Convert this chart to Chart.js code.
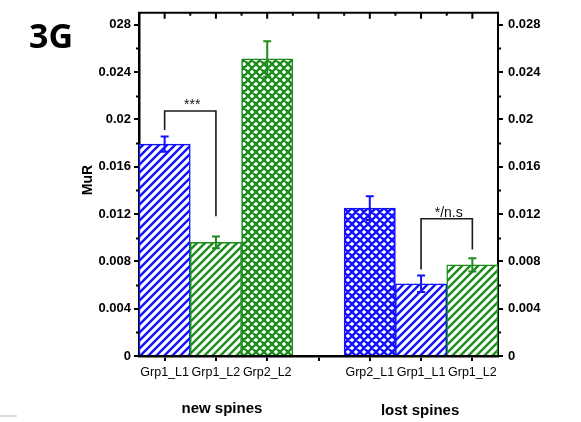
<!DOCTYPE html>
<html>
<head>
<meta charset="utf-8">
<script src="https://cdn.jsdelivr.net/npm/chart.js@4.4.1/dist/chart.umd.min.js"></script>
<style>
  html, body { margin: 0; padding: 0; background: #fff; }
  #wrap { width: 581px; height: 422px; position: relative; }
</style>
</head>
<body>
<div id="wrap"><canvas id="c" width="581" height="422"></canvas></div>
<script>
// ---- data ----
const newCategories = ['Grp1_L1', 'Grp1_L2', 'Grp2_L2'];
const newValues     = [0.0179, 0.0096, 0.0251];
const newErrors     = [0.00065, 0.0005, 0.0015];
const lostCategories = ['Grp2_L1', 'Grp1_L1', 'Grp1_L2'];
const lostValues     = [0.0125, 0.0061, 0.0077];
const lostErrors     = [0.001, 0.0007, 0.00055];
const groupLabels = ['new spines', 'lost spines'];
const yTickValues = [0, 0.004, 0.008, 0.012, 0.016, 0.02, 0.024, 0.028];
const yTickLabelsLeft  = ['0', '0.004', '0.008', '0.012', '0.016', '0.02', '0.024', '028'];
const yTickLabelsRight = ['0', '0.004', '0.008', '0.012', '0.016', '0.02', '0.024', '0.028'];
const yMinorValues = [0.002, 0.006, 0.010, 0.014, 0.018, 0.022, 0.026];
// significance brackets: category indices and value levels
const brackets = [
  { from: 0, to: 1, top: 0.0207, leftEnd: 0.0191, rightEnd: 0.0118, text: '***' },
  { from: 5, to: 6, top: 0.0116, leftEnd: 0.0073, rightEnd: 0.0090, text: '*/n.s' }
];

// ---- build combined table ----
const categories = [...newCategories, '', ...lostCategories];
const values = [...newValues, null, ...lostValues];
const errors = [...newErrors, null, ...lostErrors];
const BLUE = '#1212ff', GREEN = '#1d8c1d';
const barColors = [BLUE, GREEN, GREEN, null, BLUE, BLUE, GREEN];
const barKinds  = ['hatch', 'hatch', 'cross', null, 'cross', 'hatch', 'hatch'];

function makePattern(kind, color) {
  const c = document.createElement('canvas');
  const ctx = c.getContext('2d');
  if (kind === 'hatch') {
    const s = 8;
    c.width = s; c.height = s;
    ctx.fillStyle = '#fff'; ctx.fillRect(0, 0, s, s);
    ctx.strokeStyle = color; ctx.lineWidth = 2.4;
    ctx.beginPath();
    ctx.moveTo(-2, s + 2); ctx.lineTo(s + 2, -2);
    ctx.moveTo(-2 - s, s + 2); ctx.lineTo(2, -2);
    ctx.moveTo(s - 2, 2 + s); ctx.lineTo(2 * s + 2, -2);
    ctx.stroke();
  } else {
    const s = 8;
    c.width = s; c.height = s;
    ctx.fillStyle = '#fff'; ctx.fillRect(0, 0, s, s);
    ctx.strokeStyle = color; ctx.lineWidth = 2.4;
    ctx.beginPath();
    for (let k = -1; k <= 1; k++) {
      ctx.moveTo(-2 + k * s, s + 2); ctx.lineTo(s + 2 + k * s, -2);
      ctx.moveTo(-2 + k * s, -2); ctx.lineTo(s + 2 + k * s, s + 2);
    }
    ctx.stroke();
  }
  return document.getElementById('c').getContext('2d').createPattern(c, 'repeat');
}
const bgs = barKinds.map((k, i) => k ? makePattern(k, barColors[i]) : 'rgba(0,0,0,0)');

const FONT = '"Liberation Sans", Arial, sans-serif';

const extras = {
  id: 'extras',
  afterDatasetsDraw(chart) {
    const ctx = chart.ctx;
    const x = chart.scales.x, y = chart.scales.y;
    const area = chart.chartArea;
    ctx.save();
    // error bars
    values.forEach((v, i) => {
      if (v == null) return;
      const cx = x.getPixelForValue(i);
      const yt = y.getPixelForValue(v + errors[i]);
      const yb = y.getPixelForValue(v - errors[i]);
      ctx.strokeStyle = barColors[i];
      ctx.lineWidth = 2;
      ctx.beginPath();
      ctx.moveTo(cx, yt); ctx.lineTo(cx, yb);
      ctx.moveTo(cx - 4, yt); ctx.lineTo(cx + 4, yt);
      ctx.moveTo(cx - 4, yb); ctx.lineTo(cx + 4, yb);
      ctx.stroke();
    });
    // brackets
    ctx.strokeStyle = '#1a1a1a';
    ctx.lineWidth = 1.6;
    ctx.fillStyle = '#111';
    ctx.font = '14px ' + FONT;
    ctx.textAlign = 'center';
    ctx.textBaseline = 'alphabetic';
    brackets.forEach(b => {
      const x1 = x.getPixelForValue(b.from), x2 = x.getPixelForValue(b.to);
      const yt = y.getPixelForValue(b.top);
      ctx.beginPath();
      ctx.moveTo(x1, y.getPixelForValue(b.leftEnd));
      ctx.lineTo(x1, yt); ctx.lineTo(x2, yt);
      ctx.lineTo(x2, y.getPixelForValue(b.rightEnd));
      ctx.stroke();
      ctx.fillText(b.text, (x1 + x2) / 2 + 2, yt - 2);
    });
    // top frame + ticks
    ctx.strokeStyle = '#000';
    ctx.lineWidth = 2;
    ctx.beginPath();
    ctx.moveTo(area.left - 1, area.top); ctx.lineTo(area.right + 1, area.top);
    ctx.stroke();
    ctx.beginPath();
    for (let i = 0; i < categories.length; i++) {
      const cx = x.getPixelForValue(i);
      ctx.moveTo(cx, area.top); ctx.lineTo(cx, area.top + 6);
      if (i < categories.length - 1) {
        const bx = (cx + x.getPixelForValue(i + 1)) / 2;
        ctx.moveTo(bx, area.top); ctx.lineTo(bx, area.top + 3);
      }
    }
    // minor y ticks both sides
    yMinorValues.forEach(v => {
      const py = Math.round(y.getPixelForValue(v)) + 0.5;
      ctx.moveTo(area.left, py); ctx.lineTo(area.left - 3, py);
      ctx.moveTo(area.right, py); ctx.lineTo(area.right + 3, py);
    });
    ctx.stroke();
    ctx.restore();
  },
  afterDraw(chart) {
    const ctx = chart.ctx;
    ctx.save();
    ctx.fillStyle = '#000';
    // panel label
    ctx.font = 'bold 34px "Open Sans", "Liberation Sans", sans-serif';
    ctx.textAlign = 'left';
    ctx.textBaseline = 'alphabetic';
    ctx.fillText('3G', 29, 48);
    // y title
    ctx.font = 'bold 14px ' + FONT;
    ctx.textAlign = 'center';
    ctx.textBaseline = 'middle';
    ctx.translate(88, 180);
    ctx.rotate(-Math.PI / 2);
    ctx.fillText('MuR', 0, 0);
    ctx.setTransform(1, 0, 0, 1, 0, 0);
    // group labels
    ctx.font = 'bold 15px ' + FONT;
    ctx.fillStyle = '#000';
    const x = chart.scales.x;
    const c1 = x.getPixelForValue(1) + 6;
    const c2 = x.getPixelForValue(5) - 1;
    ctx.fillText(groupLabels[0], c1, 409);
    ctx.fillText(groupLabels[1], c2, 411);
    // small gray mark bottom-left
    ctx.strokeStyle = '#dddddd';
    ctx.lineWidth = 2;
    ctx.beginPath();
    ctx.moveTo(0, 416); ctx.lineTo(17, 416);
    ctx.stroke();
    ctx.restore();
  }
};

new Chart(document.getElementById('c'), {
  type: 'bar',
  data: {
    labels: categories,
    datasets: [{
      data: values,
      backgroundColor: bgs,
      borderColor: barColors.map(c => c || 'rgba(0,0,0,0)'),
      borderWidth: 1.5,
      barPercentage: 1,
      categoryPercentage: 1
    }]
  },
  options: {
    responsive: false,
    animation: false,
    devicePixelRatio: 1,
    layout: { padding: { top: 8, left: 0, right: 0, bottom: 0 } },
    plugins: { legend: { display: false }, tooltip: { enabled: false } },
    scales: {
      x: {
        grid: { display: true, drawOnChartArea: false, drawTicks: true, tickLength: 5, color: '#000', lineWidth: 2, offset: false },
        border: { display: true, color: '#000', width: 2.5 },
        ticks: { color: '#000', font: { family: FONT, size: 12.5 }, padding: 4, maxRotation: 0, autoSkip: false },
        afterFit(s) { s.height = 66; }
      },
      y: {
        position: 'left',
        min: 0, max: 0.029,
        afterBuildTicks(s) { s.ticks = yTickValues.map(v => ({ value: v })); },
        grid: { display: true, drawOnChartArea: false, drawTicks: true, tickLength: 5, color: '#000', lineWidth: 2 },
        border: { display: true, color: '#000', width: 2.5 },
        ticks: {
          color: '#000', font: { family: FONT, size: 13, weight: 'bold' }, padding: 3,
          callback(v, i) { return yTickLabelsLeft[i]; }
        },
        afterFit(s) { s.width = 139; }
      },
      y2: {
        position: 'right',
        min: 0, max: 0.029,
        afterBuildTicks(s) { s.ticks = yTickValues.map(v => ({ value: v })); },
        grid: { display: true, drawOnChartArea: false, drawTicks: true, tickLength: 5, color: '#000', lineWidth: 2 },
        border: { display: true, color: '#000', width: 2 },
        ticks: {
          color: '#000', font: { family: FONT, size: 13, weight: 'bold' }, padding: 5,
          callback(v, i) { return yTickLabelsRight[i]; }
        },
        afterFit(s) { s.width = 83; }
      }
    }
  },
  plugins: [extras]
});
</script>
</body>
</html>
